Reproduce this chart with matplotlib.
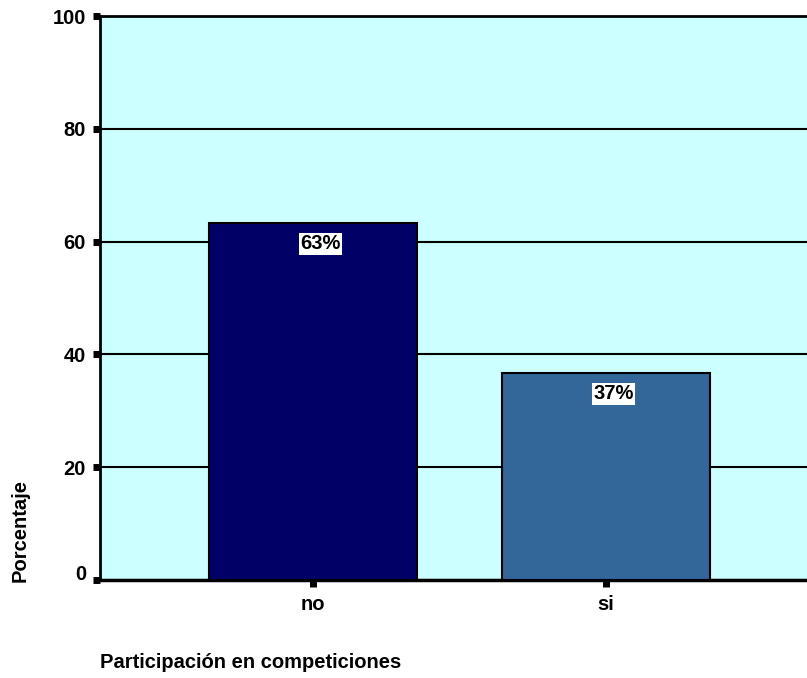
import matplotlib
matplotlib.use("Agg")
import matplotlib.pyplot as plt
import matplotlib.transforms as mtransforms

categories = ["no", "si"]
percentages = [63.3, 36.7]
value_labels = ["63%", "37%"]
bar_colors = ["#000066", "#336699"]
y_ticks = [0, 20, 40, 60, 80, 100]

plt.rcParams["font.family"] = ["Liberation Sans", "DejaVu Sans"]
plt.rcParams["font.weight"] = "bold"

W, H = 807, 678
fig = plt.figure(figsize=(W / 100, H / 100), dpi=100)
fig.patch.set_facecolor("white")

# plot area: left edge at x=100, runs past the right border of the figure
left, right_px = 100, 819
top, bottom = 16, 580
ax = fig.add_axes([left / W, (H - bottom) / H, (right_px - left) / W, (bottom - top) / H])
ax.set_facecolor("#CCFFFF")

x = list(range(len(categories)))
ax.bar(x, percentages, width=0.713, color=bar_colors, edgecolor="black",
       linewidth=1.5, zorder=3)

ax.set_xlim(-0.727, 1.727)
ax.set_ylim(0, 100)
ax.set_yticks(y_ticks)
ax.set_yticklabels([str(t) for t in y_ticks])
ax.set_xticks(x)
ax.set_xticklabels(categories)

ax.yaxis.grid(True, color="black", linewidth=1.5, zorder=1)
ax.set_axisbelow(True)

for s in ["top", "left"]:
    ax.spines[s].set_linewidth(2)
ax.spines["bottom"].set_linewidth(2.5)
ax.spines["right"].set_visible(False)

ax.tick_params(axis="y", length=5, width=5, direction="out", pad=5,
               labelsize=14.5)
ax.tick_params(axis="x", length=5, width=5, direction="out", pad=6,
               labelsize=14.5)

# the zero label sits a little above its tick
zero_lab = ax.get_yticklabels()[0]
zero_lab.set_transform(zero_lab.get_transform() +
                       mtransforms.ScaledTranslation(0, 8 / 100, fig.dpi_scale_trans))

for xi, v, lab in zip(x, percentages, value_labels):
    ax.text(xi + 0.025, v - 3.7, lab, ha="center", va="center",
            fontsize=14.5, fontweight="bold", color="black", zorder=4,
            bbox=dict(facecolor="white", edgecolor="none", pad=1.2))

fig.text(20 / W, 1 - 531 / H, "Porcentaje", rotation=90, ha="center",
         va="center", fontsize=14.5, fontweight="bold")
fig.text(100 / W, 1 - 662 / H, "Participación en competiciones", ha="left",
         va="center", fontsize=14.5, fontweight="bold")

fig.savefig("out.png", dpi=100)
